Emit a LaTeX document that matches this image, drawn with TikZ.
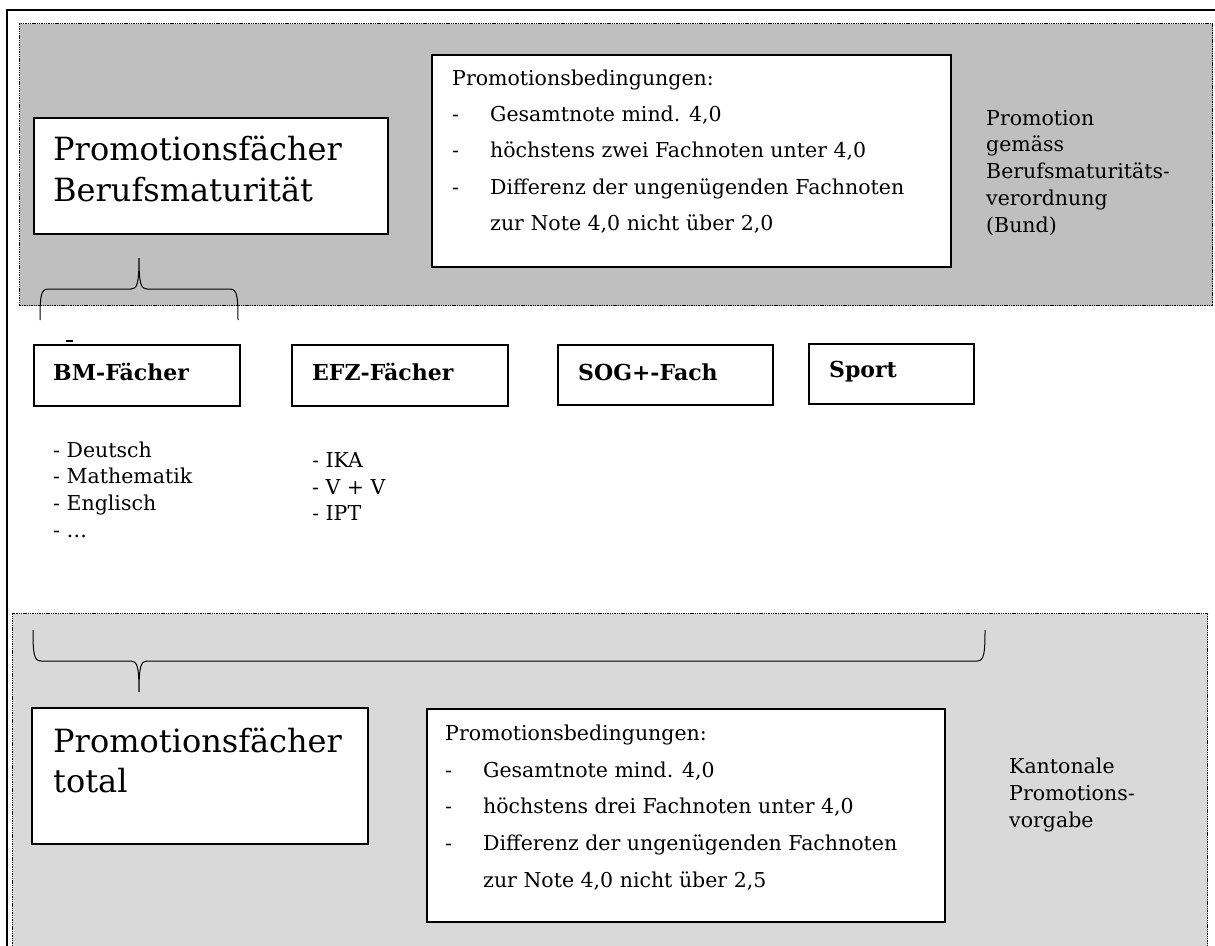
\documentclass[tikz,border=0pt]{standalone}
\usepackage{fontspec}
\setmainfont{DejaVu Serif}
\definecolor{gtop}{RGB}{191,191,191}
\definecolor{gbot}{RGB}{217,217,217}
\begin{document}
\begin{tikzpicture}[x=1pt,y=-1pt,
  frame/.style={draw=black, line width=1.6pt, fill=white, inner sep=0pt, anchor=north west},
  zone/.style={draw=black, line width=1.4pt, dash pattern=on 1.4pt off 0.9pt, inner sep=0pt, anchor=north west},
  txt/.style={anchor=base west, inner sep=0pt, font=\fontsize{20.5}{24}\selectfont},
  bigtxt/.style={anchor=base west, inner sep=0pt, font=\fontsize{32}{38}\selectfont},
  boldtxt/.style={anchor=base west, inner sep=0pt, font=\fontsize{22}{26}\selectfont\bfseries},
  bracepath/.style={draw=black, line width=1pt}]
\useasboundingbox (0,0) rectangle (1215,945);
% outer frame
\draw[line width=1.3pt] (1216,10) -- (7,10) -- (7,946);
% zones
\node[zone, fill=gtop, minimum width=1193pt, minimum height=282pt] (ztop) at (19,23) {};
\node[zone, fill=gbot, minimum width=1195pt, minimum height=345pt] (zbot) at (12,613) {};
% boxes
\node[frame, minimum width=354pt, minimum height=116pt] (pbm) at (33,117) {};
\node[frame, minimum width=519pt, minimum height=212pt] (cbm) at (431,54) {};
\node[frame, minimum width=206pt, minimum height=61pt] (bm) at (33,344) {};
\node[frame, minimum width=216pt, minimum height=61pt] (efz) at (291,344) {};
\node[frame, minimum width=215pt, minimum height=60pt] (sog) at (557,344) {};
\node[frame, minimum width=165pt, minimum height=60pt] (sport) at (808,343) {};
\node[frame, minimum width=336pt, minimum height=136pt] (ptot) at (31,707) {};
\node[frame, minimum width=518pt, minimum height=213pt] (ckt) at (426,708) {};
% big titles
\node[bigtxt] (pbm1) at (53,160) {Promotionsfächer};
\node[bigtxt] (pbm2) at (53,201) {Berufsmaturität};
\node[bigtxt] (ptot1) at (53,752) {Promotionsfächer};
\node[bigtxt] (ptot2) at (53,792) {total};
% top conditions
\node[txt] (c0) at (452,85) {Promotionsbedingungen:};
\node[txt] (c1d) at (452,121) {-};
\node[txt] (c1) at (490,121) {Gesamtnote mind. 4,0};
\node[txt] (c2d) at (452,157) {-};
\node[txt] (c2) at (490,157) {höchstens zwei Fachnoten unter 4,0};
\node[txt] (c3d) at (452,194) {-};
\node[txt] (c3) at (490,194) {Differenz der ungenügenden Fachnoten};
\node[txt] (c4) at (490,230) {zur Note 4,0 nicht über 2,0};
% bottom conditions
\node[txt] (k0) at (445,740) {Promotionsbedingungen:};
\node[txt] (k1d) at (445,777) {-};
\node[txt] (k1) at (483,777) {Gesamtnote mind. 4,0};
\node[txt] (k2d) at (445,813) {-};
\node[txt] (k2) at (483,813) {höchstens drei Fachnoten unter 4,0};
\node[txt] (k3d) at (445,850) {-};
\node[txt] (k3) at (483,850) {Differenz der ungenügenden Fachnoten};
\node[txt] (k4) at (483,887) {zur Note 4,0 nicht über 2,5};
% right labels
\node[txt] (r1) at (986,125) {Promotion};
\node[txt] (r2) at (986,151.5) {gemäss};
\node[txt] (r3) at (986,178) {Berufsmaturitäts-};
\node[txt] (r4) at (986,205) {verordnung};
\node[txt] (r5) at (986,232) {(Bund)};
\node[txt] (s1) at (1009,773) {Kantonale};
\node[txt] (s2) at (1009,800) {Promotions-};
\node[txt] (s3) at (1009,827) {vorgabe};
% subject boxes
\node[boldtxt] (bmt) at (53,380) {BM-Fächer};
\node[boldtxt] (efzt) at (312,380) {EFZ-Fächer};
\node[boldtxt] (sogt) at (578,380) {SOG+-Fach};
\node[boldtxt] (sportt) at (829,377) {Sport};
% lists
\node[txt] (l1) at (53,457) {- Deutsch};
\node[txt] (l2) at (53,483.5) {- Mathematik};
\node[txt] (l3) at (53,510) {- Englisch};
\node[txt] (l4) at (53,537) {- \dots};
\node[txt] (e1) at (312,467) {- IKA};
\node[txt] (e2) at (312,494) {- V + V};
\node[txt] (e3) at (312,520) {- IPT};
% braces
\draw[bracepath] (40,320) .. controls (40,296) and (41,289) .. (48,289) -- (131,289)
  .. controls (137,289) and (139,284) .. (139,258)
  .. controls (139,284) and (141,289) .. (147,289) -- (230,289)
  .. controls (237,289) and (238,296) .. (238,320);
\draw[bracepath] (33,630) .. controls (33,654) and (34,661) .. (41,661) -- (131,661)
  .. controls (137,661) and (139,666) .. (139,692)
  .. controls (139,666) and (141,661) .. (147,661) -- (977,661)
  .. controls (984,661) and (985,654) .. (985,630);
% small dash
\draw[line width=2pt] (66,341) -- (73,341);
\end{tikzpicture}
\end{document}
